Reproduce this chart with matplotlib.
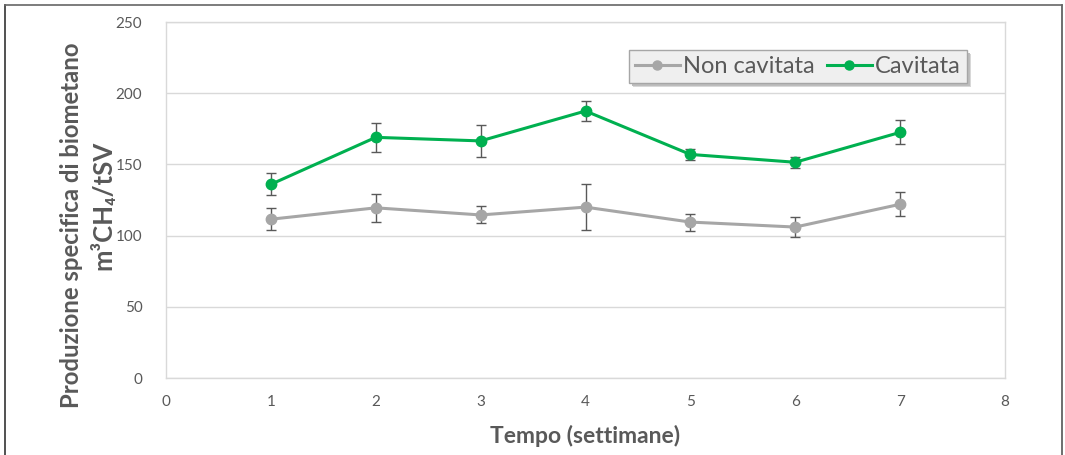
import matplotlib
matplotlib.use("Agg")
import matplotlib.pyplot as plt
from matplotlib.patches import Rectangle
from matplotlib.lines import Line2D

plt.rcParams['font.family'] = ['Lato', 'DejaVu Sans']

weeks = [1, 2, 3, 4, 5, 6, 7]
non_cavitata = [111.5, 119.5, 114.5, 120.0, 109.5, 106.0, 122.0]
non_cavitata_err = [7.7, 10.0, 6.0, 16.0, 6.0, 7.0, 8.5]
cavitata = [136.0, 169.0, 166.5, 187.5, 157.0, 151.5, 172.5]
cavitata_err = [7.7, 10.0, 11.0, 7.0, 4.0, 4.0, 8.5]

series_names = ["Non cavitata", "Cavitata"]
x_ticks = [0, 1, 2, 3, 4, 5, 6, 7, 8]
y_ticks = [0, 50, 100, 150, 200, 250]

GRAY = "#a6a6a6"
GREEN = "#00b050"
TEXT = "#595959"
GRID = "#d9d9d9"

fig = plt.figure(figsize=(10.65, 4.55), dpi=100)
W, H = 1065, 455
L, R, T, B = 166, 1005, 22, 378
ax = fig.add_axes([L / W, 1 - B / H, (R - L) / W, (B - T) / H])

for vals, errs, color, name in [(non_cavitata, non_cavitata_err, GRAY, series_names[0]),
                                (cavitata, cavitata_err, GREEN, series_names[1])]:
    ax.errorbar(weeks, vals, yerr=errs, color=color, lw=2.2, marker='o', ms=7.5,
                ecolor="#595959", elinewidth=1.0, capsize=3.5, capthick=1.0,
                zorder=3, label=name)

ax.set_xlim(0, 8)
ax.set_ylim(0, 250)
ax.set_xticks(x_ticks)
ax.set_yticks(y_ticks)
ax.yaxis.grid(True, color=GRID, lw=1.0)
ax.set_axisbelow(True)
for s in ax.spines.values():
    s.set_color(GRID)
    s.set_linewidth(1.0)
ax.tick_params(axis='both', length=0, labelsize=11, labelcolor=TEXT)
ax.tick_params(axis='x', pad=12)
ax.tick_params(axis='y', pad=17)

ax.set_xlabel("Tempo (settimane)", fontsize=16.5, fontweight='bold', color=TEXT, labelpad=12)

# two-line y axis title
fig.text(72 / W, 1 - 225 / H, "Produzione specifica di biometano", rotation=90,
         ha='center', va='center', fontsize=17.2, fontweight='bold', color=TEXT)
fig.text(103 / W, 1 - 205 / H, "m³CH₄/tSV", rotation=90,
         ha='center', va='center', fontsize=18.5, fontweight='bold', color=TEXT)

# legend
handles = [Line2D([], [], color=GRAY, lw=2.2, marker='o', ms=6.5),
           Line2D([], [], color=GREEN, lw=2.2, marker='o', ms=6.5)]
lx = (629 - L) / (R - L)
ly = 1 - (50 - T) / (B - T)
leg = ax.legend(handles, series_names, loc='upper left', bbox_to_anchor=(lx, ly),
                ncol=2, frameon=True, fancybox=False, fontsize=17,
                handlelength=1.9, handletextpad=0.15, columnspacing=0.5,
                borderpad=0.25, borderaxespad=0, labelcolor=TEXT)
leg.get_frame().set_facecolor("#efefef")
leg.get_frame().set_edgecolor("#a6a6a6")
leg.get_frame().set_alpha(1)
leg.set_zorder(6)

# drop shadow behind the legend box
fig.canvas.draw()
bb = leg.get_frame().get_window_extent()
for off, col, z in [(4, "#d8d8d8", 4.5), (3, "#bdbdbd", 4.6)]:
    ax.add_patch(Rectangle((bb.x0 + off, bb.y0 - off), bb.width, bb.height,
                           transform=None, facecolor=col, edgecolor='none',
                           zorder=z, clip_on=False))

# outer frame
fig.add_artist(Line2D([5 / W, 5 / W], [0, 1 - 5 / H], transform=fig.transFigure, color="#333333", lw=1.2))
fig.add_artist(Line2D([1062 / W, 1062 / W], [0, 1 - 5 / H], transform=fig.transFigure, color="#555555", lw=1.2))
fig.add_artist(Line2D([5 / W, 1062 / W], [1 - 5 / H, 1 - 5 / H], transform=fig.transFigure, color="#666666", lw=1.2))

fig.savefig("out.png", dpi=100)
